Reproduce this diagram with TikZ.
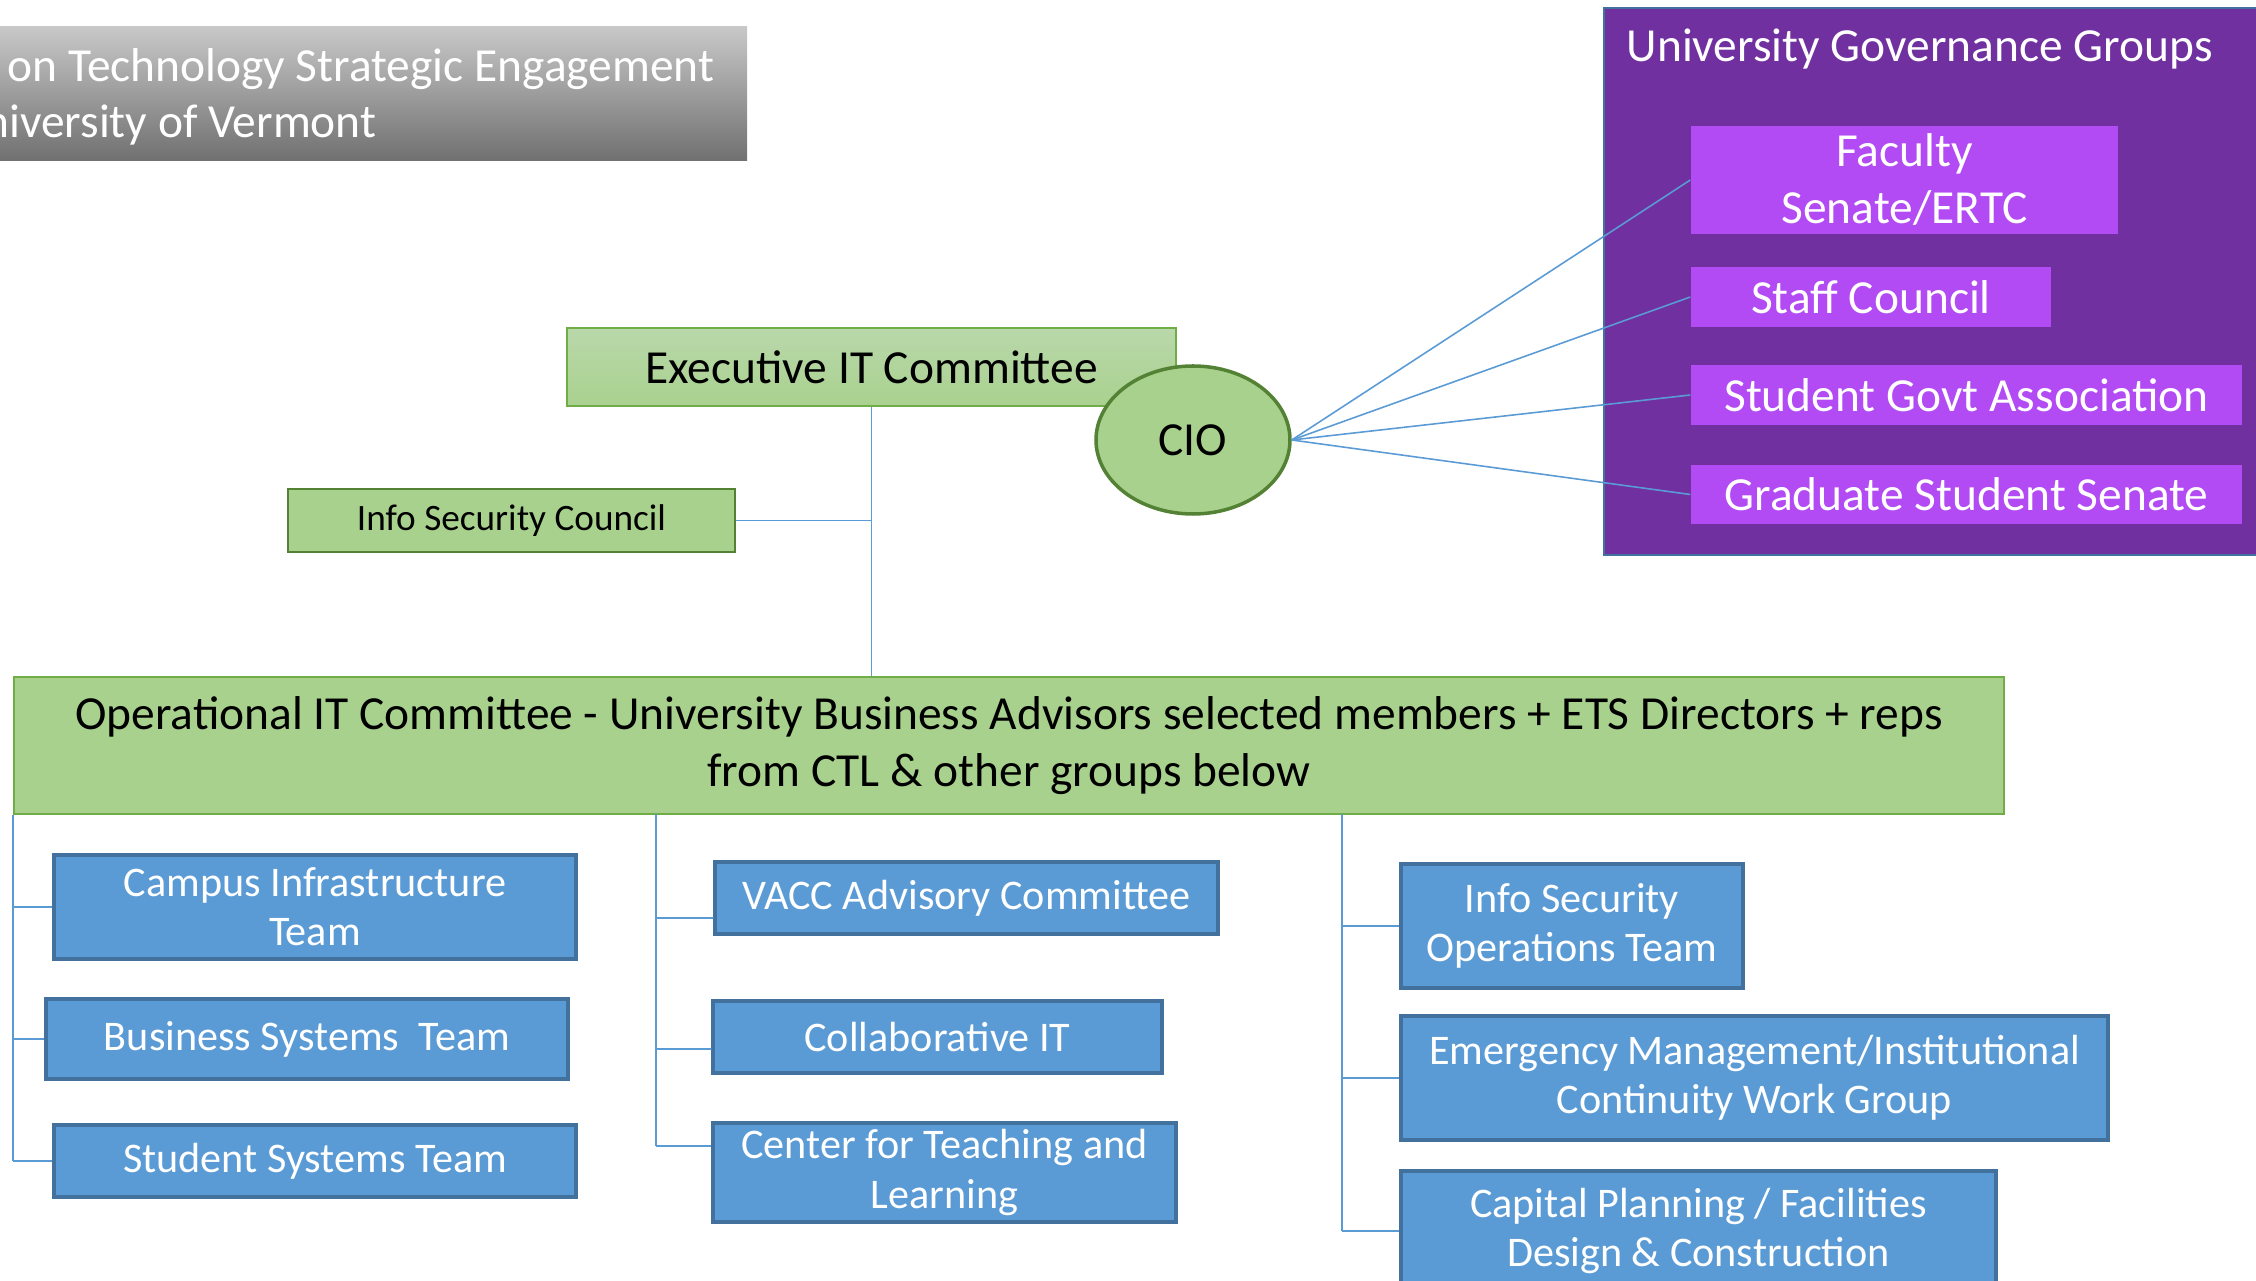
\documentclass[tikz,border=0pt]{standalone}
\usepackage{fontspec}
\setmainfont{Carlito}
\usetikzlibrary{shapes.geometric,positioning}
\definecolor{lgreen}{HTML}{A9D18E}
\definecolor{hgreen}{HTML}{B9D8AB}
\definecolor{dgreen}{HTML}{548235}
\definecolor{mgreen}{HTML}{70AD47}
\definecolor{lblue}{HTML}{5B9BD5}
\definecolor{dblue}{HTML}{41719C}
\definecolor{gpurple}{HTML}{7030A0}
\definecolor{ppink}{HTML}{B24BF3}
\definecolor{tgraytop}{HTML}{C8C8C8}
\definecolor{tgraybot}{HTML}{707070}
\tikzset{font={\fontsize{13.5pt}{16.2pt}\selectfont}}

\begin{document}
\begin{tikzpicture}[
greenbox/.style={draw=mgreen,fill=lgreen,line width=0.5pt,align=center,inner sep=0pt},
teambox/.style={draw=dblue,fill=lblue,line width=0.9pt,text=white,align=center,inner sep=0pt,font={\fontsize{12pt}{14pt}\selectfont}},
govitem/.style={fill=ppink,text=white,align=center,inner sep=0pt},
link/.style={draw=lblue,line width=0.45pt}
]
\useasboundingbox (0,0) rectangle (22.56,12.81);
\clip (0,0) rectangle (22.56,12.81);

% title banner
\shade[top color=tgraytop,bottom color=tgraybot] (-1,11.20) rectangle (7.47,12.54);
\node[anchor=base east,text=white,inner sep=0pt] (title1) at (7.15,11.995) {on Technology Strategic Engagement};
\node[anchor=base east,text=white,inner sep=0pt] (title2) at (3.77,11.43) {niversity of Vermont};

% top level
\node[greenbox,top color=hgreen,bottom color=lgreen,minimum width=6.09cm,minimum height=0.78cm] (exec) at (8.715,9.14) {Executive IT Committee};
\node[ellipse,draw=dgreen,fill=lgreen,line width=1pt,minimum width=1.94cm,minimum height=1.48cm,inner sep=0pt] (cio) at (11.93,8.41) {CIO};
\node[greenbox,draw=dgreen,line width=0.8pt,minimum width=4.47cm,minimum height=0.63cm,font={\fontsize{10.6pt}{12.7pt}\selectfont}] (isc) at (5.115,7.605) {Info Security Council};
\node[greenbox,minimum width=19.9cm,minimum height=1.37cm] (ops) at (10.09,5.355) {Operational IT Committee - University Business Advisors selected members + ETS Directors + reps\\from CTL \& other groups below};

% governance groups
\node[draw=dblue,fill=gpurple,line width=0.6pt,minimum width=7cm,minimum height=5.47cm,anchor=north west,inner sep=0pt] (gov) at (16.03,12.74) {};
\node[anchor=base west,text=white,inner sep=0pt] (govtitle) at (16.26,12.19) {University Governance Groups};
\node[govitem,minimum width=4.27cm,minimum height=1.08cm] (fac) at (19.045,11.01) {Faculty\\Senate/ERTC};
\node[govitem,minimum width=3.60cm,minimum height=0.60cm] (staff) at (18.71,9.84) {Staff Council};
\node[govitem,minimum width=5.51cm,minimum height=0.60cm] (sga) at (19.665,8.86) {Student Govt Association};
\node[govitem,minimum width=5.51cm,minimum height=0.59cm] (gss) at (19.665,7.865) {Graduate Student Senate};

\foreach \g in {fac,staff,sga,gss}
  \draw[link] (cio.east) -- (\g.west);

% teams
\node[teambox,minimum width=5.22cm,minimum height=1.04cm] (cit) at (3.15,3.74) {Campus Infrastructure\\Team};
\node[teambox,minimum width=5.22cm,minimum height=0.80cm] (bst) at (3.07,2.42) {Business Systems\ \ Team};
\node[teambox,minimum width=5.22cm,minimum height=0.72cm] (sst) at (3.15,1.20) {Student Systems Team};
\node[teambox,minimum width=5.03cm,minimum height=0.72cm] (vacc) at (9.665,3.83) {VACC Advisory Committee};
\node[teambox,minimum width=4.49cm,minimum height=0.72cm] (colit) at (9.375,2.44) {Collaborative IT};
\node[teambox,minimum width=4.63cm,minimum height=0.99cm] (ctl) at (9.445,1.085) {Center for Teaching and\\Learning};
\node[teambox,minimum width=3.42cm,minimum height=1.24cm] (isot) at (15.72,3.55) {Info Security\\Operations Team};
\node[teambox,minimum width=7.07cm,minimum height=1.24cm] (emg) at (17.545,2.03) {Emergency Management/Institutional\\Continuity Work Group};
\node[teambox,minimum width=5.95cm,minimum height=1.20cm] (cap) at (16.985,0.50) {Capital Planning / Facilities\\Design \& Construction};

% connectors
\draw[link] (exec.south) -- (exec.south |- ops.north);
\draw[link] (isc.east) -- (exec.south |- isc.east);

\coordinate (lbus) at (ops.south west);
\coordinate (mbus) at (6.56,4.67);
\coordinate (rbus) at (13.42,4.67);
\draw[link] (lbus) -- (lbus |- sst.west);
\foreach \t in {cit,bst,sst}
  \draw[link] (lbus |- \t.west) -- (\t.west);
\draw[link] (mbus) -- (mbus |- 0,1.35);
\draw[link] (mbus |- 0,3.63) -- ([yshift=-2mm]vacc.west);
\draw[link] (mbus |- 0,2.32) -- ([yshift=-1.2mm]colit.west);
\draw[link] (mbus |- 0,1.35) -- ([yshift=2.65mm]ctl.west);
\draw[link] (rbus) -- (rbus |- cap.west);
\foreach \t in {isot,emg,cap}
  \draw[link] (rbus |- \t.west) -- (\t.west);
\end{tikzpicture}
\end{document}
